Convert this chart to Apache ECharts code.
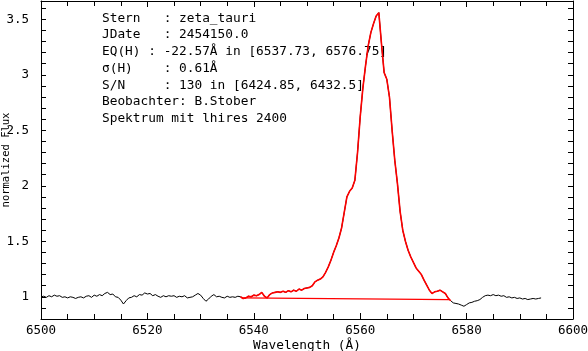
<!DOCTYPE html>
<html>
<head>
<meta charset="utf-8">
<script src="https://cdn.jsdelivr.net/npm/echarts@6/dist/echarts.min.js"></script>
<style>
html,body{margin:0;padding:0;background:#fff;}
#main{width:588px;height:351px;}
</style>
</head>
<body>
<div id="main"></div>
<script>
//spectrum sampling (Angstrom)
var wlStart = 6500;
var wlStep = 0.5;
//normalized flux, one value per step
var flux = [
	1.00, 1.005, 0.995, 1.01, 1.00, 1.015, 1.005, 1.01, 0.995, 1.00,
	0.99, 1.00, 0.995, 0.985, 0.995, 1.00, 0.99, 1.005, 1.01, 0.995,
	1.015, 1.005, 1.02, 1.01, 1.03, 1.04, 1.02, 1.025, 1.00, 0.995,
	0.97, 0.935, 0.965, 0.99, 0.995, 1.01, 1.00, 1.02, 1.015, 1.035,
	1.025, 1.03, 1.01, 1.02, 1.005, 0.995, 1.01, 1.00, 1.01, 1.005,
	1.01, 0.995, 1.005, 1.00, 1.01, 0.99, 0.995, 1.00, 1.015, 1.03,
	1.015, 0.985, 0.96, 0.98, 1.005, 1.02, 1.00, 1.005, 0.995, 0.99,
	1.005, 0.995, 1.00, 0.995, 1.005, 1.00, 0.985, 0.99, 1.005, 1.00,
	1.015, 1.01, 1.02, 1.04, 1.005, 0.99, 1.02, 1.035, 1.04, 1.045,
	1.04, 1.05, 1.04, 1.055, 1.045, 1.06, 1.05, 1.07, 1.06, 1.075,
	1.08, 1.085, 1.10, 1.135, 1.15, 1.16, 1.18, 1.22, 1.27, 1.33,
	1.40, 1.46, 1.53, 1.62, 1.76, 1.90, 1.95, 1.98, 2.05, 2.30,
	2.62, 2.88, 3.08, 3.26, 3.38, 3.46, 3.53, 3.56, 3.28, 3.02,
	2.96, 2.80, 2.50, 2.23, 2.02, 1.77, 1.60, 1.50, 1.42, 1.36,
	1.31, 1.26, 1.23, 1.20, 1.15, 1.105, 1.06, 1.03, 1.045, 1.05,
	1.06, 1.045, 1.03, 0.99, 0.965, 0.945, 0.94, 0.935, 0.925, 0.915,
	0.93, 0.945, 0.95, 0.96, 0.965, 0.975, 0.995, 1.01, 1.015, 1.01,
	1.02, 1.01, 1.015, 1.005, 1.01, 0.995, 1.00, 0.99, 0.995, 0.985,
	0.99, 0.98, 0.985, 0.975, 0.98, 0.985, 0.98, 0.985, 0.99
];
//EQ integration window and its continuum line
var eqRange = [6537.73, 6576.75];
var eqBase = [0.99, 0.975];
var infoLines = [
	'Stern   : zeta_tauri',
	'JDate   : 2454150.0',
	'EQ(H) : -22.57\u00c5 in [6537.73, 6576.75]',
	'\u03c3(H)    : 0.61\u00c5',
	'S/N     : 130 in [6424.85, 6432.5]',
	'Beobachter: B.Stober',
	'Spektrum mit lhires 2400'
];

var monoFont = '"DejaVu Sans Mono", "Liberation Mono", monospace';

var allData = [];
var redData = [];
for(var i = 0; i < flux.length; i++) {
	var wl = wlStart + i * wlStep;
	allData.push([wl, flux[i]]);
	if(wl >= eqRange[0] - 0.3 && wl <= eqRange[1] + 0.3) {
		redData.push([wl, flux[i]]);
	}
}

var textEls = infoLines.map(function(t, k) {
	return {
		type: 'text',
		left: 102,
		top: 12 + k * 16.67,
		style: {
			text: t,
			fill: '#000',
			font: '12.8px ' + monoFont
		}
	};
});

function halfLabel(v) {
	var d = v * 2;
	if(Math.abs(d - Math.round(d)) < 1e-6) {
		return String(Math.round(d) / 2);
	}
	return '';
}

var axisLine = { show: true, lineStyle: { color: '#000', width: 1 } };

var myChart = echarts.init(document.getElementById('main'), null, { renderer: 'canvas' });
var option = {
	animation: false,
	backgroundColor: '#fff',
	grid: { left: 41, right: 15, top: 1, bottom: 32, containLabel: false, outerBoundsMode: 'none' },
	xAxis: [{
		type: 'value',
		min: 6500,
		max: 6600,
		interval: 20,
		position: 'bottom',
		name: 'Wavelength (\u00c5)',
		nameLocation: 'middle',
		nameGap: 20,
		nameMoveOverlap: false,
		nameTextStyle: { color: '#000', fontFamily: monoFont, fontSize: 12.8 },
		axisLine: axisLine,
		axisTick: { inside: true, length: 6, lineStyle: { color: '#000' } },
		minorTick: { show: true, splitNumber: 4, length: 5, lineStyle: { color: '#000' } },
		axisLabel: {
			color: '#000', fontFamily: monoFont, fontSize: 12.5, margin: 5,
			formatter: function(v) { return String(v); }
		},
		splitLine: { show: false }
	}, {
		type: 'value',
		min: 6500,
		max: 6600,
		interval: 20,
		position: 'top',
		axisLine: axisLine,
		axisTick: { inside: true, length: 6, lineStyle: { color: '#000' } },
		minorTick: { show: true, splitNumber: 4, length: 5, lineStyle: { color: '#000' } },
		axisLabel: { show: false },
		splitLine: { show: false }
	}],
	yAxis: [{
		type: 'value',
		min: 0.8,
		max: 3.665,
		interval: 0.1,
		position: 'left',
		name: 'normalized Flux',
		nameLocation: 'middle',
		nameGap: 29,
		nameMoveOverlap: false,
		nameTextStyle: { color: '#000', fontFamily: monoFont, fontSize: 10.5 },
		axisLine: axisLine,
		axisTick: { inside: true, length: 5, lineStyle: { color: '#000' } },
		axisLabel: { color: '#000', fontFamily: monoFont, fontSize: 12.5, margin: 12, formatter: halfLabel },
		splitLine: { show: false }
	}, {
		type: 'value',
		min: 0.8,
		max: 3.665,
		interval: 0.1,
		position: 'right',
		axisLine: axisLine,
		axisTick: { inside: true, length: 5, lineStyle: { color: '#000' } },
		axisLabel: { show: false },
		splitLine: { show: false }
	}],
	graphic: textEls,
	series: [{
		type: 'line',
		data: allData,
		showSymbol: false,
		lineStyle: { color: '#000', width: 1 },
		z: 2
	}, {
		type: 'line',
		data: redData,
		showSymbol: false,
		lineStyle: { color: '#ff0000', width: 1.6 },
		z: 3
	}, {
		type: 'line',
		data: [[eqRange[0], eqBase[0]], [eqRange[1], eqBase[1]]],
		showSymbol: false,
		lineStyle: { color: '#ff0000', width: 1.2 },
		z: 3
	}]
};
myChart.setOption(option);
</script>
</body>
</html>
